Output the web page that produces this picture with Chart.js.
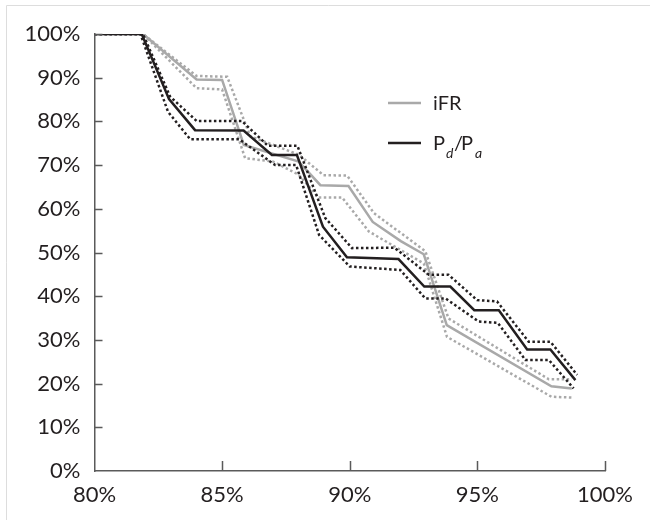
<!DOCTYPE html>
<html>
<head>
<meta charset="utf-8">
<script src="https://cdn.jsdelivr.net/npm/chart.js@4"></script>
<style>
  html, body { margin: 0; padding: 0; background: #fff; }
  #wrap { width: 650px; height: 520px; }
</style>
</head>
<body>
<div id="wrap"><canvas id="grafico"></canvas></div>
<script>
// tick labels
const xTicks = [80, 85, 90, 95, 100];
const yTicks = [0, 10, 20, 30, 40, 50, 60, 70, 80, 90, 100];

// iFR (gray) - [x %, y %]
const ifr = [[80,100],[81.9,100],[84.0,89.6],[85.0,89.5],[85.85,74.6],[88.0,70.8],[88.85,65.4],[89.95,65.2],[90.9,57.0],[92.0,52.6],[92.9,49.6],[93.8,33.4],[97.9,19.4],[98.7,18.9]];
const ifrHi = [[80,100],[81.9,100],[84.0,90.4],[85.2,90.2],[86.1,76.6],[88.0,72.4],[88.97,67.7],[89.9,67.6],[90.95,59.0],[92.96,50.3],[93.87,34.9],[97.8,21.0],[98.7,21.0]];
const ifrLo = [[80,100],[81.9,100],[84.0,87.6],[85.0,87.3],[85.9,71.6],[87.0,70.8],[88.0,67.8],[88.78,62.6],[89.7,62.6],[90.75,54.8],[92.9,47.5],[93.81,30.7],[97.9,17.0],[98.7,16.8]];

// Pd/Pa (black)
const pdpa = [[80,100],[81.85,100],[82.92,85.1],[83.94,78.0],[85.84,77.9],[86.95,72.3],[87.93,72.3],[88.95,55.9],[89.89,48.9],[91.91,48.5],[92.92,42.2],[93.94,42.2],[94.88,36.8],[95.84,36.8],[96.95,27.8],[97.86,27.8],[98.84,20.8]];
const pdpaHi = [[80,100],[81.9,100],[82.96,85.7],[84.0,80.1],[85.77,80.1],[86.8,74.4],[87.95,74.4],[89.04,57.9],[90.09,51.0],[91.75,51.1],[93.1,44.9],[93.87,44.9],[94.99,39.1],[95.77,38.8],[97.01,29.6],[97.86,29.6],[98.91,22.0]];
const pdpaLo = [[80,100],[81.8,100],[82.88,82.2],[83.75,75.9],[85.67,75.9],[87.08,70.0],[87.9,70.0],[88.8,54.0],[90.0,46.8],[91.98,46.0],[92.96,39.5],[93.75,39.5],[95.05,34.2],[95.8,33.9],[96.88,25.4],[97.8,25.4],[98.77,18.9]];

const gris = '#a9a9a9';
const preto = '#231f20';
const eixo = '#5a5a5a';
const fonte = 'Lato, "Open Sans", sans-serif';

function pts(arr) {
  return arr.map(p => ({ x: p[0], y: p[1] }));
}

function serie(label, arr, cor, pontilhado) {
  return {
    label: label,
    data: pts(arr),
    borderColor: cor,
    backgroundColor: cor,
    borderWidth: 2.5,
    borderDash: pontilhado ? [2.5, 2.5] : [],
    borderCapStyle: 'butt',
    borderJoinStyle: 'miter',
    pointRadius: 0,
    tension: 0,
    fill: false
  };
}

// moldura, ticks internos e legenda
const extras = {
  id: 'extras',
  beforeDraw(chart) {
    const c = chart.ctx;
    c.save();
    c.strokeStyle = '#dddddd';
    c.lineWidth = 1;
    c.beginPath();
    c.moveTo(6.5, 520);
    c.lineTo(6.5, 5.5);
    c.lineTo(650, 5.5);
    c.stroke();
    c.restore();
  },
  afterDatasetsDraw(chart) {
    const c = chart.ctx;
    const xs = chart.scales.x, ys = chart.scales.y;
    const a = chart.chartArea;
    c.save();
    c.strokeStyle = eixo;
    c.lineWidth = 1.5;
    c.beginPath();
    yTicks.forEach(v => {
      if (v === 0) return;
      const y = Math.round(ys.getPixelForValue(v)) + 0.5;
      c.moveTo(a.left, y);
      c.lineTo(a.left + 8, y);
    });
    xTicks.forEach(v => {
      if (v === 80) return;
      const x = Math.round(xs.getPixelForValue(v)) + 0.5;
      c.moveTo(x, a.bottom);
      c.lineTo(x, a.bottom - 10);
    });
    c.stroke();

    // legenda
    c.lineWidth = 2.5;
    c.strokeStyle = gris;
    c.beginPath(); c.moveTo(388, 103); c.lineTo(421, 103); c.stroke();
    c.strokeStyle = preto;
    c.beginPath(); c.moveTo(388, 143); c.lineTo(421, 143); c.stroke();
    c.fillStyle = preto;
    c.textBaseline = 'alphabetic';
    c.font = '20px ' + fonte;
    c.fillText('iFR', 433, 110);
    c.fillText('P', 433, 150);
    c.font = 'italic 14px ' + fonte;
    c.fillText('d', 446, 158);
    c.font = '20px ' + fonte;
    c.fillText('/', 454, 150);
    c.fillText('P', 461, 150);
    c.font = 'italic 14px ' + fonte;
    c.fillText('a', 475, 158);
    c.restore();
  }
};

const ctx = document.getElementById('grafico');
new Chart(ctx, {
  type: 'line',
  data: {
    datasets: [
      serie('Pd/Pa', pdpa, preto, false),
      serie('Pd/Pa sup', pdpaHi, preto, true),
      serie('Pd/Pa inf', pdpaLo, preto, true),
      serie('iFR', ifr, gris, false),
      serie('iFR sup', ifrHi, gris, true),
      serie('iFR inf', ifrLo, gris, true)
    ]
  },
  options: {
    responsive: true,
    maintainAspectRatio: false,
    animation: false,
    layout: { padding: { left: 0, top: 34, right: 45, bottom: 0 } },
    plugins: {
      legend: { display: false },
      tooltip: { enabled: false }
    },
    scales: {
      x: {
        type: 'linear',
        min: 80,
        max: 100,
        afterBuildTicks: s => { s.ticks = xTicks.map(v => ({ value: v })); },
        afterFit: s => { s.height = 49; },
        grid: { display: false, drawTicks: false },
        border: { display: true, color: eixo, width: 1.5 },
        ticks: {
          padding: 11,
          color: preto,
          font: { family: fonte, size: 22 },
          callback: v => v + '%'
        }
      },
      y: {
        min: 0,
        max: 100,
        afterBuildTicks: s => { s.ticks = yTicks.map(v => ({ value: v })); },
        afterFit: s => { s.width = 94.5; },
        grid: { display: false, drawTicks: false },
        border: { display: true, color: eixo, width: 1.5 },
        ticks: {
          padding: 14,
          color: preto,
          font: { family: fonte, size: 22 },
          callback: v => v + '%'
        }
      }
    }
  },
  plugins: [extras]
});
</script>
</body>
</html>
